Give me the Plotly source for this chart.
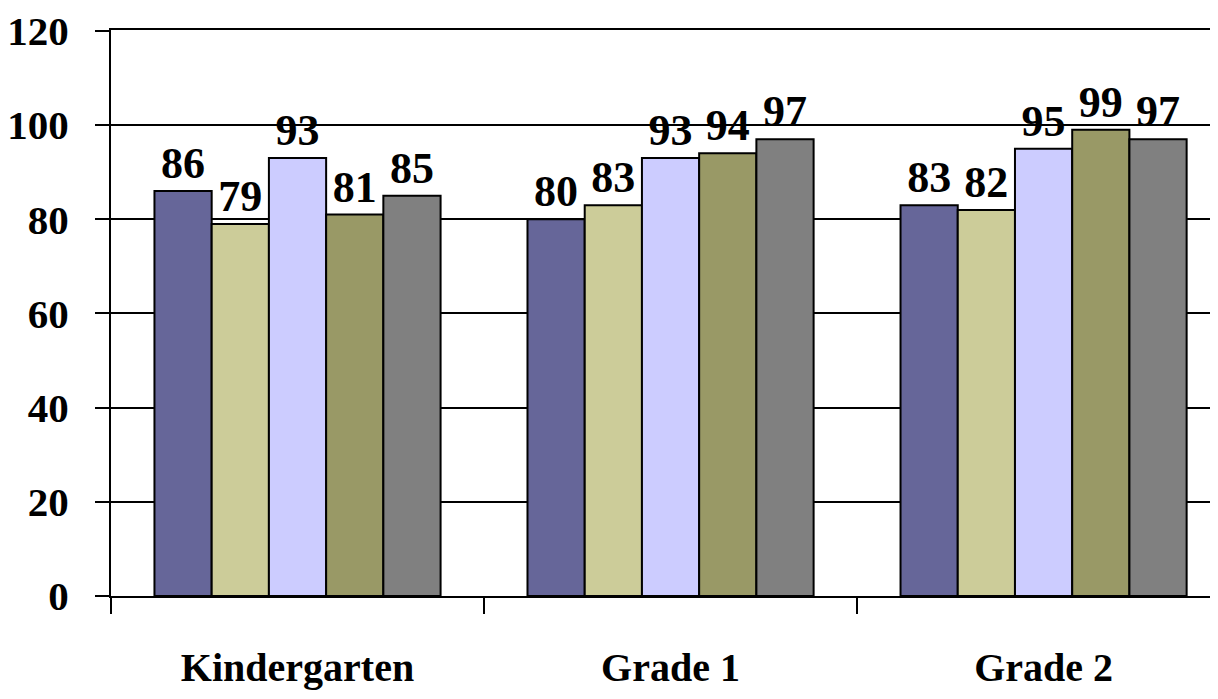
import plotly.graph_objects as go

categorias = ['Kindergarten', 'Grade 1', 'Grade 2']
series = ['S1', 'S2', 'S3', 'S4', 'S5']
valores = [
    [86, 80, 83],
    [79, 83, 82],
    [93, 93, 95],
    [81, 94, 99],
    [85, 97, 97],
]
cores = ['#666699', '#CCCC99', '#CCCCFF', '#999966', '#808080']
y_ticks = [0, 20, 40, 60, 80, 100, 120]

fonte = 'Liberation Serif'

fig = go.Figure()
for nome, vals, cor in zip(series, valores, cores):
    fig.add_trace(go.Bar(
        x=categorias,
        y=vals,
        name=nome,
        marker=dict(color=cor, line=dict(color='black', width=2)),
        text=[str(v) for v in vals],
        textposition='outside',
        textfont=dict(family=fonte, size=44, color='black', weight='bold'),
        cliponaxis=False,
    ))

# a página tem 8px de margem no body, por isso compensamos aqui
fig.update_layout(
    width=1218, height=699,
    margin=dict(l=103, r=0, t=22, b=111, pad=0, autoexpand=False),
    paper_bgcolor='white', plot_bgcolor='white',
    barmode='group', bargap=0.233, bargroupgap=0,
    showlegend=False,
    font=dict(family=fonte, color='black', weight='bold'),
)
fig.update_xaxes(
    range=[-0.5, 2.489], automargin=False,
    showline=True, linecolor='black', linewidth=2, mirror=True,  # linha de cima = grade do 120
    ticks='outside', tickson='boundaries', ticklen=16, tickwidth=2, tickcolor='black',
    tickfont=dict(family=fonte, size=40, color='black', weight='bold'),
    ticklabelstandoff=35,
    showgrid=False,
)
fig.update_yaxes(
    range=[0, 120.2], tickvals=y_ticks, automargin=False,
    showline=True, linecolor='black', linewidth=2,
    ticks='outside', ticklen=14, tickwidth=2, tickcolor='black',
    showgrid=True, gridcolor='black', gridwidth=2,
    zeroline=False,
    tickfont=dict(family=fonte, size=41, color='black', weight='bold'),
    ticklabelstandoff=18,
)

fig.write_html('out.html')
